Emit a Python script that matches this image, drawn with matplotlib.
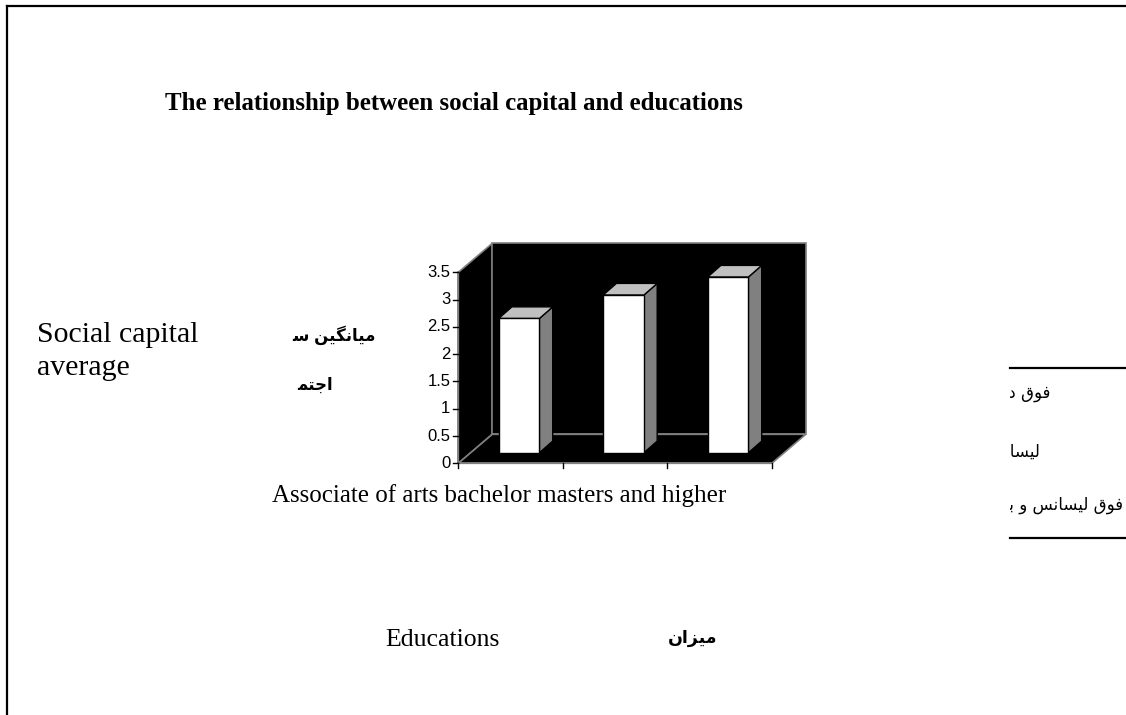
import matplotlib
matplotlib.use("Agg")
import matplotlib.pyplot as plt
from matplotlib.patches import Polygon, Rectangle
from matplotlib.lines import Line2D

# ---------------- data ----------------
categories = ["Associate of arts", "bachelor", "masters and higher"]
values = [2.46, 2.89, 3.22]
y_ticks = [0, 0.5, 1, 1.5, 2, 2.5, 3, 3.5]
y_tick_labels = ["0", "0.5", "1", "1.5", "2", "2.5", "3", "3.5"]
title = "The relationship between social capital and educations"
ylabel_en = ["Social capital", "average"]
# Persian labels written in visual order with Arabic presentation forms
ylabel_fa = ["\uFEB3 \uFEE6\uFBFF\uFB95\uFEE7\uFE8E\uFBFF\uFEE3",   # میانگین س
             "\uFEE4\uFE98\uFE9F\uFE8D"]                            # اجتم
xlabel_cats = "Associate of arts bachelor masters and higher"
xlabel_en = "Educations"
xlabel_fa = "\uFEE5\uFE8D\uFEB0\uFBFF\uFEE3"                      # میزان
legend_fa = ["\uFEE2\uFEE0\uFB59\uFBFE\uFEA9 \uFED5\uFEEE\uFED3",   # فوق دیپلم
             "\uFEB2\uFEE7\uFE8E\uFEB4\uFBFF\uFEDF",                # لیسانس
             "\uFEAE\uFE97\uFEFB\uFE8E\uFE91 \uFEED \uFEB2\uFEE7\uFE8E\uFEB4\uFBFF\uFEDF \uFED5\uFEEE\uFED3"]  # فوق لیسانس و بالاتر

W, H = 1126, 715
fig = plt.figure(figsize=(W / 100, H / 100), dpi=100)
fig.patch.set_facecolor("white")


def fx(x):
    return x / W


def fy(y):
    return 1 - y / H


# ---------------- page frame ----------------
fig.add_artist(Line2D([fx(7), fx(W + 5)], [fy(6), fy(6)], color="black", lw=1.6))
fig.add_artist(Line2D([fx(7), fx(7)], [fy(6), fy(H + 5)], color="black", lw=1.6))

# ---------------- 3D-looking chart area ----------------
x0px, catpx = 458.3, 104.5      # pixel of category 0, pixels per category
y0px, valpx = 463.3, 54.57      # pixel of value 0, pixels per unit
ax_l, ax_r, ax_t, ax_b = 430, 840, 225, 485
ax = fig.add_axes([fx(ax_l), fy(ax_b), (ax_r - ax_l) / W, (ax_b - ax_t) / H])
ax.set_xlim((ax_l - x0px) / catpx, (ax_r - x0px) / catpx)
ax.set_ylim((y0px - ax_b) / valpx, (y0px - ax_t) / valpx)
ax.axis("off")

n = len(categories)
ymax = y_ticks[-1]
ddx = 34 / catpx   # depth offset in category units
ddy = 29 / valpx   # depth offset in value units
edge = "#808080"

left_wall = [(0, 0), (0, ymax), (ddx, ymax + ddy), (ddx, ddy)]
back_wall = [(ddx, ddy), (ddx, ymax + ddy), (n + ddx, ymax + ddy), (n + ddx, ddy)]
floor = [(0, 0), (n, 0), (n + ddx, ddy), (ddx, ddy)]
for poly in (left_wall, back_wall, floor):
    ax.add_patch(Polygon(poly, closed=True, facecolor="black", edgecolor=edge, lw=1.2, zorder=1))
ax.plot([0, 0], [0, ymax], color=edge, lw=1.2, zorder=2)
ax.plot([0, n], [0, 0], color=edge, lw=1.2, zorder=2)

# ticks
for t, lab in zip(y_ticks, y_tick_labels):
    ax.plot([-5 / catpx, 0], [t, t], color="black", lw=1, zorder=2)
    ax.text(-8 / catpx, t, lab, ha="right", va="center", fontsize=12,
            family="Liberation Sans", color="black")
for i in range(n + 1):
    ax.plot([i, i], [0, -5 / valpx], color="black", lw=1, zorder=2)

# bars
bw = 0.39
fx0, fy0 = 0.25, 0.365     # depth position of bar front face (fraction of depth)
fdx, fdy = 0.39, 0.40      # bar depth (fraction of depth)
for i, v in enumerate(values):
    cx = i + 0.5 + fx0 * ddx
    by = fy0 * ddy
    xl, xr = cx - bw / 2, cx + bw / 2
    ox, oy = fdx * ddx, fdy * ddy
    front = [(xl, by), (xl, by + v), (xr, by + v), (xr, by)]
    side = [(xr, by), (xr, by + v), (xr + ox, by + v + oy), (xr + ox, by + oy)]
    top = [(xl, by + v), (xl + ox, by + v + oy), (xr + ox, by + v + oy), (xr, by + v)]
    ax.add_patch(Polygon(side, closed=True, facecolor="#808080", edgecolor="black", lw=1, zorder=3))
    ax.add_patch(Polygon(top, closed=True, facecolor="#c0c0c0", edgecolor="black", lw=1, zorder=3))
    ax.add_patch(Polygon(front, closed=True, facecolor="white", edgecolor="black", lw=1, zorder=4))

# ---------------- texts ----------------
fig.text(fx(165), fy(110), title, ha="left", va="baseline", fontsize=17.9,
         fontweight="bold", family="Liberation Serif")
fig.text(fx(37), fy(341.7), ylabel_en[0], ha="left", va="baseline", fontsize=21.5,
         family="Liberation Serif")
fig.text(fx(37), fy(375), ylabel_en[1], ha="left", va="baseline", fontsize=21.5,
         family="Liberation Serif")
fig.text(fx(376), fy(335), ylabel_fa[0], ha="right", va="center", fontsize=12,
         fontweight="bold", family="DejaVu Sans")
fig.text(fx(333), fy(385), ylabel_fa[1], ha="right", va="center", fontsize=12,
         fontweight="bold", family="DejaVu Sans")
fig.text(fx(271.7), fy(501.7), xlabel_cats, ha="left", va="baseline", fontsize=18,
         family="Liberation Serif")
fig.text(fx(385), fy(646), xlabel_en, ha="left", va="baseline", fontsize=18.5,
         family="Liberation Serif")
fig.text(fx(717), fy(638), xlabel_fa, ha="right", va="center", fontsize=12.5,
         fontweight="bold", family="DejaVu Sans")

# ---------------- legend (clipped at its left edge) ----------------
fig.add_artist(Line2D([fx(1010), fx(W + 5)], [fy(368), fy(368)], color="black", lw=1.6))
fig.add_artist(Line2D([fx(1010), fx(W + 5)], [fy(538), fy(538)], color="black", lw=1.6))
clip = Rectangle((fx(1010), 0), 1, 1, transform=fig.transFigure, visible=False)
fig.add_artist(clip)
leg_right = [1050, 1040, 1124]
leg_y = [393, 452, 505]
for s, xr, yy in zip(legend_fa, leg_right, leg_y):
    t = fig.text(fx(xr), fy(yy), s, ha="right", va="center", fontsize=12,
                 family="DejaVu Sans")
    t.set_clip_path(clip)

fig.savefig("out.png", dpi=100)
